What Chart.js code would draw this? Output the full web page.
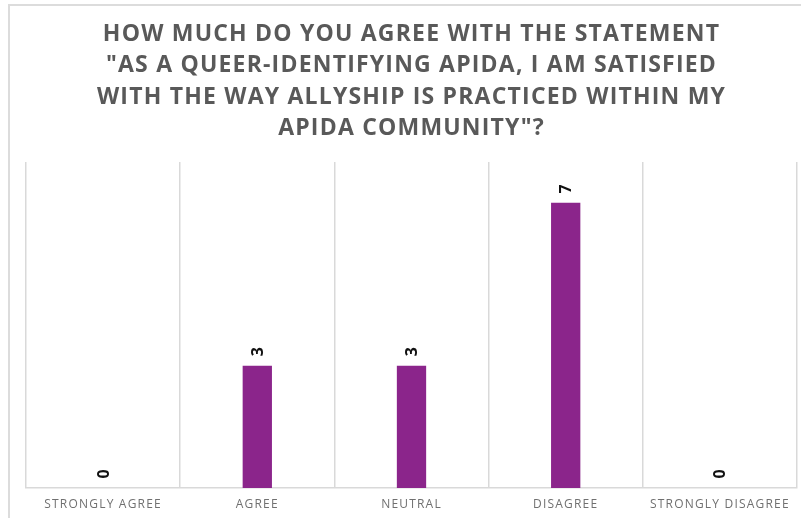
<!DOCTYPE html>
<html>
<head>
<meta charset="utf-8">
<script src="https://cdn.jsdelivr.net/npm/chart.js@4/dist/chart.umd.min.js"></script>
<style>
  html, body { margin: 0; padding: 0; background: #fff; }
  #wrap { position: relative; width: 801px; height: 518px; overflow: hidden; }
  #frame {
    position: absolute; left: 8px; top: 4px; width: 820px; height: 540px;
    border-top: 2px solid #dcdcdc; border-left: 2px solid #dcdcdc;
  }
  #chart { position: absolute; left: 0; top: 0; }
</style>
</head>
<body>
<div id="wrap">
  <div id="frame"></div>
  <canvas id="chart" width="801" height="518"></canvas>
</div>
<script>
/* survey answers */
const categories = ["STRONGLY AGREE", "AGREE", "NEUTRAL", "DISAGREE", "STRONGLY DISAGREE"];
const counts = [0, 3, 3, 7, 0];
const titleLines = [
    "HOW MUCH DO YOU AGREE WITH THE STATEMENT",
    "\"AS A QUEER-IDENTIFYING APIDA, I AM SATISFIED",
    "WITH THE WAY ALLYSHIP IS PRACTICED WITHIN MY",
    "APIDA COMMUNITY\"?"
];
const yMax = 8;

const barColor = "#8b258b";
const gridColor = "#d9d9d9";
const textColor = "#595959";

/* spaced-out lettering for the titles and ticks */
const spacing = {
    id: "spacing",
    beforeDraw(chart) {
        chart.ctx.letterSpacing = "1.2px";
    },
    afterDraw(chart) {
        chart.ctx.letterSpacing = "0px";
    }
};

/* value labels turned on their side above each bar */
const barValues = {
    id: "barValues",
    afterDatasetsDraw(chart) {
        const ctx = chart.ctx;
        const meta = chart.getDatasetMeta(0);
        ctx.save();
        ctx.letterSpacing = "0px";
        ctx.font = "bold 16px 'Open Sans'";
        ctx.fillStyle = "#111";
        ctx.textAlign = "center";
        ctx.textBaseline = "middle";
        meta.data.forEach((bar, i) => {
            ctx.save();
            ctx.translate(bar.x + 1, bar.y - 14);
            ctx.rotate(-Math.PI / 2);
            ctx.fillText(String(counts[i]), 0, 0);
            ctx.restore();
        });
        ctx.restore();
    }
};

new Chart(document.getElementById("chart"), {
    type: "bar",
    data: {
        labels: categories,
        datasets: [{
            data: counts,
            backgroundColor: barColor,
            borderWidth: 0,
            categoryPercentage: 1,
            barPercentage: 0.19
        }]
    },
    options: {
        responsive: false,
        animation: false,
        layout: { padding: { left: 26, right: 4, top: 0, bottom: 0 } },
        plugins: {
            legend: { display: false },
            tooltip: { enabled: false },
            title: {
                display: true,
                text: titleLines,
                color: textColor,
                font: { family: "'Open Sans'", size: 23, weight: "bold", lineHeight: 1.36 },
                padding: { top: 19, bottom: 18 }
            }
        },
        scales: {
            x: {
                offset: true,
                grid: { color: gridColor, offset: true, drawTicks: false, lineWidth: 1.5 },
                border: { color: gridColor, width: 1.5 },
                ticks: {
                    color: "#707070",
                    font: { family: "'Open Sans'", size: 12 },
                    padding: 9,
                    maxRotation: 0,
                    autoSkip: false
                },
                afterFit(scale) { scale.height = 30; }
            },
            y: {
                display: false,
                min: 0,
                max: yMax
            }
        }
    },
    plugins: [spacing, barValues]
});
</script>
</body>
</html>
